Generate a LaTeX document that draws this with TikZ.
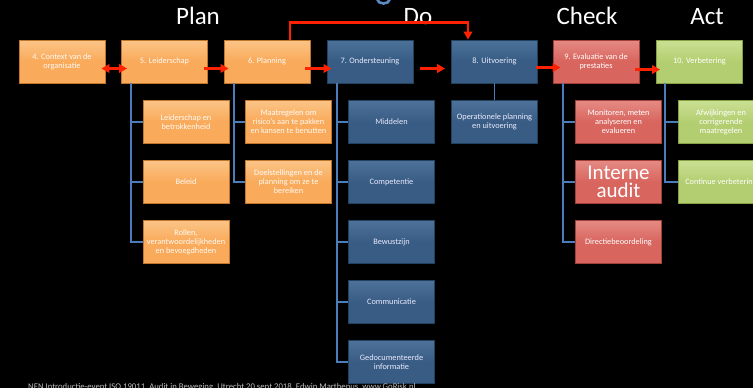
\documentclass[tikz,border=0pt]{standalone}
\usepackage{fontspec}
\setmainfont{Carlito}
\usetikzlibrary{arrows.meta}
\definecolor{orfill}{HTML}{F9AA5A}
\definecolor{ortop}{HTML}{FBC487}
\definecolor{ordraw}{HTML}{C0772C}
\definecolor{blfill}{HTML}{385C83}
\definecolor{bltop}{HTML}{4D7299}
\definecolor{bldraw}{HTML}{22405F}
\definecolor{rdfill}{HTML}{D8655E}
\definecolor{rdtop}{HTML}{E58A84}
\definecolor{rddraw}{HTML}{A23F39}
\definecolor{grfill}{HTML}{B3CE70}
\definecolor{grtop}{HTML}{CAE094}
\definecolor{grdraw}{HTML}{86A044}
\definecolor{linkblue}{HTML}{4A7DBA}
\definecolor{flowred}{HTML}{FF2200}
\definecolor{footgray}{HTML}{BDBDBD}
\tikzset{
  boxbase/.style={rectangle, minimum width=86pt, minimum height=43pt, inner sep=1pt,
    align=center, line width=0.8pt,
    font=\fontsize{8.3}{9.1}\selectfont, text=white},
  orbox/.style={boxbase, draw=ordraw, top color=ortop, bottom color=orfill, middle color=orfill, text=white!96!orange},
  blbox/.style={boxbase, draw=bldraw, top color=bltop, bottom color=blfill, middle color=blfill, text=white!92!blue},
  rdbox/.style={boxbase, draw=rddraw, top color=rdtop, bottom color=rdfill, middle color=rdfill},
  grbox/.style={boxbase, draw=grdraw, top color=grtop, bottom color=grfill, middle color=grfill},
  link/.style={draw=linkblue, line width=1.8pt},
  flow/.style={draw=flowred, line width=2.6pt, -{Triangle[length=8pt,width=8.5pt]}},
  flowboth/.style={draw=flowred, line width=2.6pt, {Triangle[length=8pt,width=8.5pt]}-{Triangle[length=8pt,width=8.5pt]}},
  phase/.style={text=white, font=\fontsize{25}{25}\selectfont, anchor=base},
}
\begin{document}
\begin{tikzpicture}[x=1pt,y=-1pt]
\fill[black] (0,0) rectangle (753,388);
\clip (0,0) rectangle (753,388);
\useasboundingbox (0,0) rectangle (753,388);

% fragment of a blue glyph at the top edge
\draw[linkblue!90!white, line width=2.6pt] (377,-1) .. controls (378,5) and (389,5) .. (390,-1);

% phase titles
\node[phase] (tplan) at (198,24) {Plan};
\node[phase] (tdo) at (418,24) {Do};
\node[phase] (tcheck) at (587,24) {Check};
\node[phase] (tact) at (707,24) {Act};

% top row
\node[orbox] (p4) at (62,61.5) {4. Context van de\\organisatie};
\node[orbox] (p5) at (164.5,61.5) {5. Leiderschap};
\node[orbox] (p6) at (267,61.5) {6. Planning};
\node[blbox] (p7) at (370,61.5) {7. Ondersteuning};
\node[blbox] (p8) at (494.5,61.5) {8. Uitvoering};
\node[rdbox] (p9) at (596,61.5) {9. Evaluatie van de\\prestaties};
\node[grbox] (p10) at (699.5,61.5) {10. Verbetering};

% children
\node[orbox] (c5a) at (186,122) {Leiderschap en\\betrokkenheid};
\node[orbox] (c5b) at (186,182) {Beleid};
\node[orbox] (c5c) at (186,242) {Rollen,\\verantwoordelijkheden\\en bevoegdheden};

\node[orbox] (c6a) at (288.5,122) {Maatregelen om\\risico's aan te pakken\\en kansen te benutten};
\node[orbox] (c6b) at (288.5,182) {Doelstellingen en de\\planning om ze te\\bereiken};

\node[blbox] (c7a) at (391.5,122) {Middelen};
\node[blbox] (c7b) at (391.5,182) {Competentie};
\node[blbox] (c7c) at (391.5,242) {Bewustzijn};
\node[blbox] (c7d) at (391.5,302) {Communicatie};
\node[blbox] (c7e) at (391.5,362) {Gedocumenteerde\\informatie};

\node[blbox] (c8a) at (494.5,122) {Operationele planning\\en uitvoering};

\node[rdbox] (c9a) at (618.5,122) {Monitoren, meten\\analyseren en\\evalueren};
\node[rdbox, font=\fontsize{21}{17.5}\selectfont] (c9b) at (618.5,182) {Interne\\audit};
\node[rdbox] (c9c) at (618.5,242) {Directiebeoordeling};

\node[grbox] (c10a) at (721,122) {Afwijkingen en\\corrigerende\\maatregelen};
\node[grbox] (c10b) at (721,182) {Continue verbetering};

% connectors
\foreach \c in {c5a,c5b,c5c} \draw[link] ([xshift=10pt]p5.south west) |- (\c.west);
\foreach \c in {c6a,c6b} \draw[link] ([xshift=10pt]p6.south west) |- (\c.west);
\foreach \c in {c7a,c7b,c7c,c7d,c7e} \draw[link] ([xshift=10pt]p7.south west) |- (\c.west);
\draw[link] (p8.south) -- (c8a.north);
\foreach \c in {c9a,c9b,c9c} \draw[link] ([xshift=10pt]p9.south west) |- (\c.west);
\foreach \c in {c10a,c10b} \draw[link] ([xshift=9pt]p10.south west) |- (\c.west);

% red flow arrows
\draw[flowboth] ([xshift=-4pt,yshift=-7pt]p4.east) -- ([xshift=6pt,yshift=-7pt]p5.west);
\draw[flow] ([xshift=-4pt,yshift=-7pt]p5.east) -- ([xshift=5pt,yshift=-7pt]p6.west);
\draw[flow] ([xshift=-5pt,yshift=-7pt]p6.east) -- ([xshift=5pt,yshift=-7pt]p7.west);
\draw[flow] ([xshift=7pt,yshift=-7pt]p7.east) -- ([xshift=-6pt,yshift=-7pt]p8.west);
\draw[flow] ([xshift=-2pt,yshift=-6pt]p8.east) -- ([xshift=8pt,yshift=-6pt]p9.west);
\draw[flow] ([xshift=-4pt,yshift=-8pt]p9.east) -- ([xshift=4pt,yshift=-8pt]p10.west);
\coordinate (elbowa) at ([xshift=23pt,yshift=17pt]p6.north);
\coordinate (elbowb) at ([xshift=-26.5pt]p8.north);
\draw[flow] ([xshift=23pt]p6.north) -- (elbowa) -| (elbowb);

% footer
\node[anchor=base west, inner sep=0pt, text=footgray, font=\fontsize{8.7}{9}\selectfont] (foot) at (28,389)
  {NEN Introductie-event ISO 19011, Audit in Beweging, Utrecht 20 sept 2018, Edwin Marthenus, www.GoRisk.nl};
\end{tikzpicture}
\end{document}
